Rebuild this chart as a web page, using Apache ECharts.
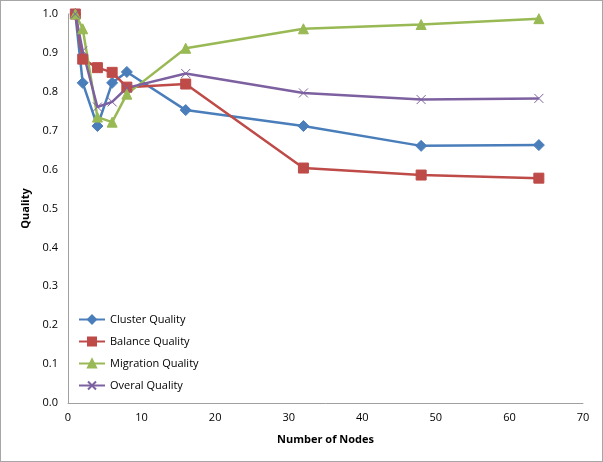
<!DOCTYPE html>
<html>
<head>
<meta charset="utf-8">
<script src="https://cdn.jsdelivr.net/npm/echarts@6/dist/echarts.min.js"></script>
<style>
  html, body { margin: 0; padding: 0; background: #fff; }
  #chart { width: 601px; height: 460px; border: 1px solid #a6a6a6; }
</style>
</head>
<body>
<div id="chart"></div>
<script>
// number of nodes
var nodes = [1, 2, 4, 6, 8, 16, 32, 48, 64];

var clusterQuality   = [1.0, 0.823, 0.712, 0.823, 0.851, 0.753, 0.712, 0.661, 0.663];
var balanceQuality   = [1.0, 0.884, 0.862, 0.850, 0.812, 0.820, 0.604, 0.586, 0.578];
var migrationQuality = [1.0, 0.962, 0.735, 0.722, 0.794, 0.912, 0.962, 0.973, 0.988];
var overalQuality    = [1.0, 0.905, 0.761, 0.774, 0.810, 0.847, 0.797, 0.780, 0.783];

var xTicks = [0, 10, 20, 30, 40, 50, 60, 70];
var yTicks = [0, 0.1, 0.2, 0.3, 0.4, 0.5, 0.6, 0.7, 0.8, 0.9, 1.0];

var font = '"Open Sans", "Liberation Sans", sans-serif';

function pairs(ys) {
    return nodes.map(function (x, i) { return [x, ys[i]]; });
}

function mkSeries(name, ys, color, symbol, size) {
    return {
        name: name,
        type: 'line',
        data: pairs(ys),
        smooth: false,
        symbol: symbol,
        symbolSize: size,
        lineStyle: { color: color, width: 2.5 },
        itemStyle: { color: color, borderColor: color, borderWidth: 1 },
        emphasis: { disabled: true }
    };
}

var chart = echarts.init(document.getElementById('chart'));

var option = {
    animation: false,
    textStyle: { fontFamily: font },
    grid: { left: 67, right: 19, top: 13, bottom: 58 },
    legend: {
        orient: 'vertical',
        left: 72,
        top: 308,
        itemWidth: 26,
        itemHeight: 10,
        itemGap: 11,
        textStyle: { fontSize: 11, color: '#000', fontFamily: font },
        data: ['Cluster Quality', 'Balance Quality', 'Migration Quality', 'Overal Quality']
    },
    xAxis: {
        type: 'value',
        min: xTicks[0],
        max: xTicks[xTicks.length - 1],
        interval: 10,
        name: 'Number of Nodes',
        nameLocation: 'middle',
        nameGap: 31,
        nameTextStyle: { fontWeight: 'bold', fontSize: 11, color: '#000' },
        axisLine: { lineStyle: { color: '#a0a0a0' } },
        axisTick: { show: false },
        axisLabel: { fontSize: 11, color: '#000', margin: 9 },
        splitLine: { show: false }
    },
    yAxis: {
        type: 'value',
        min: yTicks[0],
        max: yTicks[yTicks.length - 1],
        interval: 0.1,
        name: 'Quality',
        nameLocation: 'middle',
        nameGap: 34,
        nameTextStyle: { fontWeight: 'bold', fontSize: 11, color: '#000' },
        axisLine: { show: true, lineStyle: { color: '#a0a0a0' } },
        axisTick: { show: false },
        axisLabel: {
            fontSize: 11, color: '#000', margin: 10,
            formatter: function (v) { return v.toFixed(1); }
        },
        splitLine: { show: false }
    },
    series: [
        mkSeries('Cluster Quality', clusterQuality, '#4a7ebb', 'diamond', 11),
        mkSeries('Balance Quality', balanceQuality, '#be4b48', 'rect', 10),
        mkSeries('Migration Quality', migrationQuality, '#98b954', 'triangle', 10),
        mkSeries('Overal Quality', overalQuality, '#7d60a0', 'path://M0,0L10,10M10,0L0,10', 9)
    ]
};

chart.setOption(option);
</script>
</body>
</html>
